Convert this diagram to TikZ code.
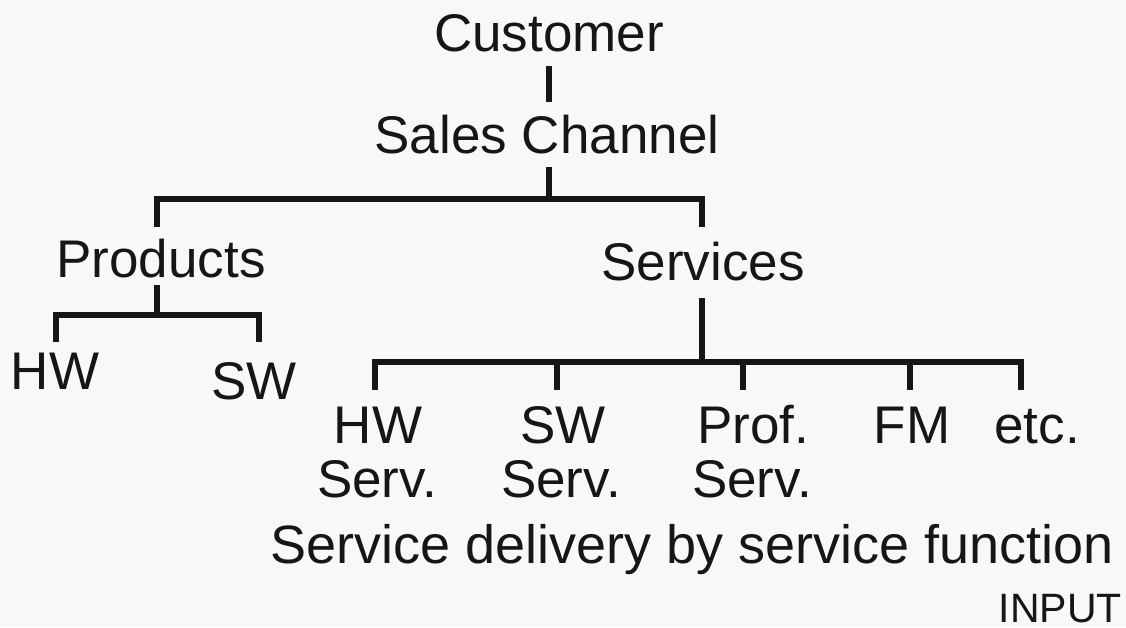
\documentclass[tikz,border=0pt]{standalone}
\usepackage{fontspec}
\setmainfont{Liberation Sans}
\definecolor{ink}{RGB}{22,22,22}
\definecolor{bg}{RGB}{248,248,248}
\begin{document}
\begin{tikzpicture}[x=1pt,y=-1pt,
  lbl/.style={inner sep=0pt, anchor=base, text=ink, font=\fontsize{53}{60}\selectfont},
  small/.style={inner sep=0pt, anchor=base, text=ink, font=\fontsize{41}{48}\selectfont},
  ln/.style={line width=6pt, draw=ink, line join=miter}]
\fill[bg] (0,0) rectangle (1126,627);
\useasboundingbox (0,0) rectangle (1126,627);
% labels
\node[lbl] (cust) at (549,51) {Customer};
\node[lbl] (sales) at (547,153) {Sales Channel};
\node[lbl] (prod) at (161,277) {Products};
\node[lbl] (serv) at (703,280) {Services};
\node[lbl] (hw) at (55,389) {HW};
\node[lbl] (sw) at (254,399) {SW};
\node[lbl] (hws) at (378,443) {HW};
\node[lbl] (hwsb) at (377,497) {Serv.};
\node[lbl] (sws) at (563,443) {SW};
\node[lbl] (swsb) at (561,497) {Serv.};
\node[lbl] (prof) at (753,443) {Prof.};
\node[lbl] (profb) at (752,497) {Serv.};
\node[lbl] (fm) at (912,443) {FM};
\node[lbl] (etc) at (1037,443) {etc.};
\node[lbl, font=\fontsize{54}{60}\selectfont] (deliv) at (692,563) {Service delivery by service function};
\node[small, anchor=base east] (input) at (1122,622) {INPUT};
% junction coordinates
\coordinate (c1) at (549,66);
\coordinate (c2) at (549,102);
\coordinate (s1) at (549,167);
\coordinate (s2) at (549,199);
\coordinate (sl) at (157,199);
\coordinate (sr) at (702,199);
\coordinate (slb) at (157,227);
\coordinate (srb) at (702,227);
\coordinate (p1) at (157,285);
\coordinate (p2) at (157,315);
\coordinate (pl) at (56,315);
\coordinate (pr) at (259,315);
\coordinate (plb) at (56,342);
\coordinate (prb) at (259,342);
\coordinate (v1) at (702,298);
\coordinate (v2) at (702,362);
\coordinate (vl) at (375,362);
\coordinate (vr) at (1021,362);
\coordinate (vlb) at (375,390);
\coordinate (vrb) at (1021,390);
\coordinate (va) at (557,362);
\coordinate (vab) at (557,390);
\coordinate (vb) at (743,362);
\coordinate (vbb) at (743,390);
\coordinate (vc) at (910,362);
\coordinate (vcb) at (910,390);
% connectors
\draw[ln] (c1) -- (c2);
\draw[ln] (s1) -- (s2);
\draw[ln] (slb) -- (sl) -- (sr) -- (srb);
\draw[ln] (p1) -- (p2);
\draw[ln] (plb) -- (pl) -- (pr) -- (prb);
\draw[ln] (v1) -- (v2);
\draw[ln] (vlb) -- (vl) -- (vr) -- (vrb);
\draw[ln] (va) -- (vab);
\draw[ln] (vb) -- (vbb);
\draw[ln] (vc) -- (vcb);
\end{tikzpicture}
\end{document}
